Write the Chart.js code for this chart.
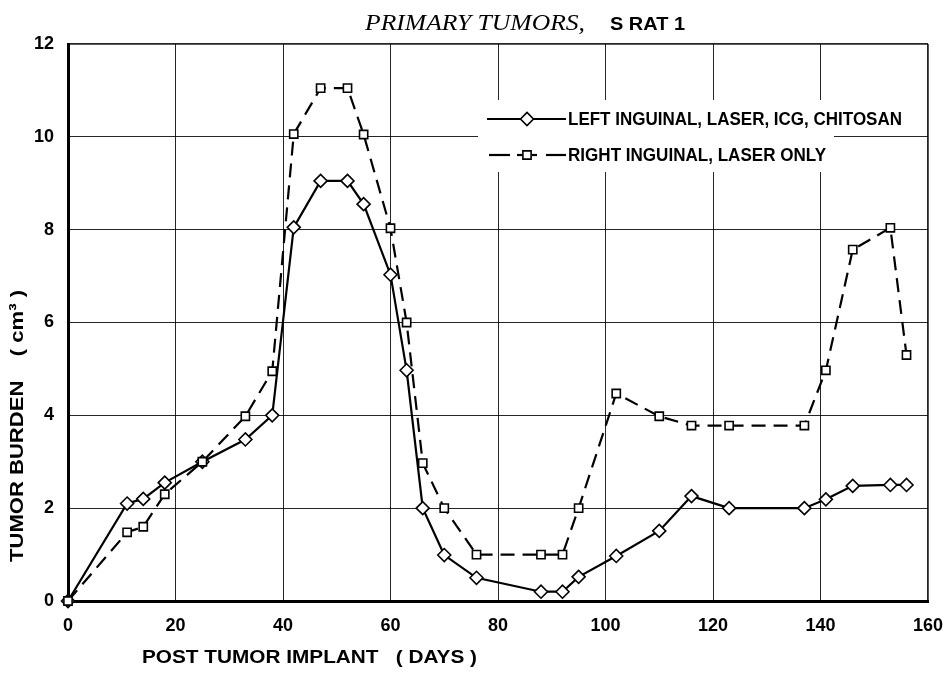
<!DOCTYPE html>
<html>
<head>
<meta charset="utf-8">
<script src="https://cdn.jsdelivr.net/npm/chart.js@4"></script>
<style>
  html, body { margin: 0; padding: 0; background: #fff; }
  #wrap { width: 951px; height: 678px; }
</style>
</head>
<body>
<div id="wrap"><canvas id="tumorChart" width="951" height="678"></canvas></div>
<script>
// values
const days = [0, 11, 14, 18, 25, 33, 38, 42, 47, 52, 55, 60, 63, 66, 70, 76, 88, 92, 95, 102, 110, 116, 123, 137, 141, 146, 153, 156];
const leftInguinal = [0, 2.1, 2.2, 2.55, 3.0, 3.48, 4.0, 8.05, 9.05, 9.05, 8.55, 7.03, 4.97, 2.0, 0.99, 0.5, 0.2, 0.2, 0.52, 0.97, 1.51, 2.26, 2.0, 2.0, 2.19, 2.48, 2.5, 2.5];
const rightInguinal = [0, 1.48, 1.6, 2.3, 3.0, 3.98, 4.95, 10.06, 11.05, 11.05, 10.05, 8.03, 6.0, 2.97, 2.0, 1.0, 1.0, 1.0, 2.0, 4.47, 3.98, 3.78, 3.78, 3.78, 4.97, 7.57, 8.04, 5.3];
const seriesNames = ['LEFT INGUINAL, LASER, ICG, CHITOSAN', 'RIGHT INGUINAL, LASER ONLY'];
const xTicks = [0, 20, 40, 60, 80, 100, 120, 140, 160];
const yTicks = [0, 2, 4, 6, 8, 10, 12];

const toPoints = vals => days.map((d, i) => ({ x: d, y: vals[i] }));

const sans = '"Liberation Sans", Arial, sans-serif';
const tickFont = { family: sans, size: 18, weight: 'bold' };
const gridColor = 'rgba(0,0,0,0.85)';

// text drawn at its natural height but stretched/squeezed to a given width
function fitText(ctx, text, x, y, width) {
    const w = ctx.measureText(text).width;
    ctx.save();
    ctx.translate(x, y);
    ctx.scale(width / w, 1);
    ctx.fillText(text, 0, 0);
    ctx.restore();
}

// draw text labels and the in-plot legend
const textPlugin = {
    id: 'textPlugin',
    afterDraw(chart) {
        const ctx = chart.ctx;
        ctx.save();
        ctx.fillStyle = '#000';
        ctx.textBaseline = 'alphabetic';
        ctx.textAlign = 'left';

        // title
        ctx.font = 'italic 23px "Liberation Serif", serif';
        fitText(ctx, 'PRIMARY TUMORS,', 365, 30, 220);
        ctx.font = 'bold 19px ' + sans;
        fitText(ctx, 'S RAT 1', 610, 30, 75);

        // x axis title
        ctx.textBaseline = 'middle';
        ctx.font = 'bold 19px ' + sans;
        fitText(ctx, 'POST TUMOR IMPLANT   ( DAYS )', 142, 658, 335);

        // y axis title
        ctx.save();
        ctx.translate(18, 562);
        ctx.rotate(-Math.PI / 2);
        fitText(ctx, 'TUMOR BURDEN    ( cm\u00B3 )', 0, 0, 272);
        ctx.restore();

        // legend
        const sets = chart.data.datasets;
        ctx.fillStyle = '#fff';
        ctx.fillRect(478, 100, 430, 35);
        ctx.fillRect(478, 135, 356, 37);

        const rows = [
            { y: 119, width: 334 },
            { y: 155, width: 258 }
        ];
        ctx.strokeStyle = '#000';
        ctx.lineCap = 'butt';

        // row 1: solid line with diamond
        ctx.lineWidth = sets[0].borderWidth;
        ctx.setLineDash([]);
        ctx.beginPath();
        ctx.moveTo(487, rows[0].y);
        ctx.lineTo(566, rows[0].y);
        ctx.stroke();

        // row 2: dashed line with square
        ctx.lineWidth = sets[1].borderWidth;
        const segs = [[489, 510], [517, 522], [532, 537], [546, 566]];
        segs.forEach(s => {
            ctx.beginPath();
            ctx.moveTo(s[0], rows[1].y);
            ctx.lineTo(s[1], rows[1].y);
            ctx.stroke();
        });

        [0, 1].forEach(i => {
            ctx.fillStyle = '#fff';
            ctx.strokeStyle = '#000';
            ctx.lineWidth = sets[i].pointBorderWidth;
            Chart.helpers.drawPoint(ctx, {
                pointStyle: sets[i].pointStyle,
                radius: sets[i].pointRadius,
                rotation: 0,
                borderWidth: sets[i].pointBorderWidth
            }, 527, rows[i].y);
        });

        // legend labels squeezed to the condensed face width
        ctx.fillStyle = '#000';
        ctx.font = 'bold 18px ' + sans;
        ctx.textBaseline = 'middle';
        rows.forEach((r, i) => fitText(ctx, seriesNames[i], 568, r.y + 1, r.width));

        ctx.restore();
    }
};

new Chart(document.getElementById('tumorChart').getContext('2d'), {
    type: 'line',
    data: {
        datasets: [{
            label: seriesNames[0],
            data: toPoints(leftInguinal),
            order: 1,
            clip: 10,
            borderColor: '#000',
            borderWidth: 2.2,
            pointStyle: 'rectRot',
            pointRadius: 6.5,
            pointBorderWidth: 1.6,
            pointBackgroundColor: '#fff',
            pointBorderColor: '#000',
            tension: 0,
            fill: false
        }, {
            label: seriesNames[1],
            data: toPoints(rightInguinal),
            order: 0,
            clip: 10,
            borderColor: '#000',
            borderWidth: 2.2,
            borderDash: [14, 8],
            pointStyle: 'rect',
            pointRadius: 5.8,
            pointBorderWidth: 1.6,
            pointBackgroundColor: '#fff',
            pointBorderColor: '#000',
            tension: 0,
            fill: false
        }]
    },
    options: {
        responsive: false,
        animation: false,
        devicePixelRatio: 1,
        layout: { padding: { top: 44, right: 23, left: 0, bottom: 0 } },
        plugins: {
            legend: { display: false },
            title: { display: false },
            tooltip: { enabled: false }
        },
        scales: {
            x: {
                type: 'linear',
                min: xTicks[0],
                max: xTicks[xTicks.length - 1],
                afterBuildTicks: s => { s.ticks = xTicks.map(v => ({ value: v })); },
                afterFit: s => { s.height = 77; s.paddingRight = 0; s.paddingLeft = 0; },
                ticks: { font: tickFont, color: '#000', padding: 14, maxRotation: 0 },
                grid: {
                    color: gridColor,
                    lineWidth: c => (c.tick && c.tick.value === 160 ? 1.8 : 1),
                    drawTicks: false
                },
                border: { display: true, color: '#000', width: 3 }
            },
            y: {
                min: yTicks[0],
                max: yTicks[yTicks.length - 1],
                afterBuildTicks: s => { s.ticks = yTicks.map(v => ({ value: v })); },
                afterFit: s => { s.width = 68; s.paddingTop = 0; s.paddingBottom = 0; },
                ticks: { font: tickFont, color: '#000', padding: 14 },
                grid: {
                    color: gridColor,
                    lineWidth: c => (c.tick && c.tick.value === 12 ? 1.8 : 1),
                    drawTicks: false
                },
                border: { display: true, color: '#000', width: 3 }
            }
        }
    },
    plugins: [textPlugin]
});
</script>
</body>
</html>
